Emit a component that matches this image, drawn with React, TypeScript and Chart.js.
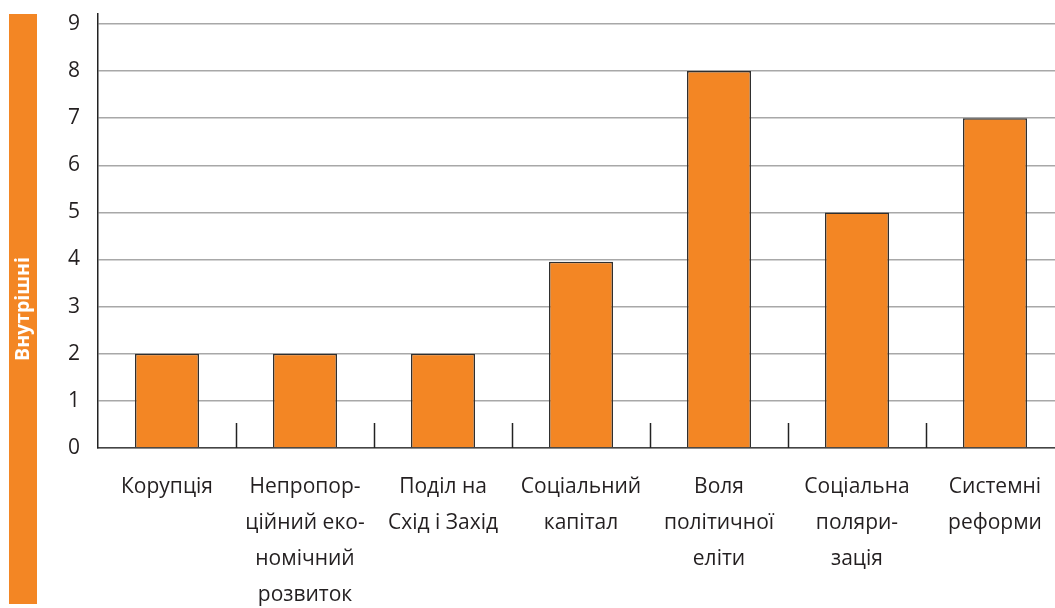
import React, { useEffect, useRef } from "react";
import { Chart, registerables } from "chart.js";

Chart.register(...registerables);

const categories: (string | string[])[] = [
  "Корупція",
  ["Непропор-", "ційний еко-", "номічний", "розвиток"],
  ["Поділ на", "Схід і Захід"],
  ["Соціальний", "капітал"],
  ["Воля", "політичної", "еліти"],
  ["Соціальна", "поляри-", "зація"],
  ["Системні", "реформи"],
];
const values: number[] = [2, 2, 2, 3.95, 8, 5, 7];
const yTicks: number[] = [0, 1, 2, 3, 4, 5, 6, 7, 8, 9];
const sideLabel = "Внутрішні";

const ORANGE = "#F38624";
const FONT = "'Open Sans', 'Noto Sans', sans-serif";

const decorPlugin = {
  id: "decor",
  beforeDraw(chart: any) {
    const ctx = chart.ctx;
    ctx.save();
    ctx.fillStyle = ORANGE;
    ctx.fillRect(1, 6, 28, 590);
    ctx.translate(15, 301);
    ctx.rotate(-Math.PI / 2);
    ctx.fillStyle = "#ffffff";
    ctx.font = `bold 19.5px ${FONT}`;
    ctx.textAlign = "center";
    ctx.textBaseline = "middle";
    ctx.fillText(sideLabel, 0, 0);
    ctx.restore();
  },
  afterDatasetsDraw(chart: any) {
    const ctx = chart.ctx;
    const xs = chart.scales.x;
    const ys = chart.scales.y;
    const y0 = ys.getPixelForValue(0);
    ctx.save();
    ctx.strokeStyle = "#222";
    ctx.lineWidth = 1.5;
    for (let i = 0; i < categories.length - 1; i++) {
      const x = Math.round((xs.getPixelForValue(i) + xs.getPixelForValue(i + 1)) / 2) + 0.5;
      ctx.beginPath();
      ctx.moveTo(x, y0);
      ctx.lineTo(x, y0 - 25);
      ctx.stroke();
    }
    ctx.restore();
  },
};

export default function App() {
  const ref = useRef<HTMLCanvasElement>(null);
  useEffect(() => {
    if (!ref.current) return;
    const chart = new Chart(ref.current, {
      type: "bar",
      data: {
        labels: categories,
        datasets: [
          {
            data: values,
            backgroundColor: ORANGE,
            borderColor: "#2f2f2f",
            borderWidth: 1.5,
            categoryPercentage: 1,
            barPercentage: 0.464,
          },
        ],
      },
      options: {
        animation: false,
        responsive: false,
        maintainAspectRatio: false,
        layout: { padding: { top: 6, left: 0, right: 0, bottom: 0 } },
        plugins: { legend: { display: false }, tooltip: { enabled: false } },
        scales: {
          x: {
            offset: true,
            grid: { display: false, drawTicks: false },
            border: { color: "#444", width: 1.5 },
            ticks: {
              autoSkip: false,
              maxRotation: 0,
              minRotation: 0,
              padding: 21,
              color: "#231f20",
              font: { family: FONT, size: 21, lineHeight: 1.72 },
            },
            afterFit(scale: any) {
              scale.height = 160;
              scale.paddingLeft = 0;
              scale.paddingRight = 0;
            },
          },
          y: {
            min: 0,
            max: 9.21,
            grid: { color: "#a8a8a8", lineWidth: 1.5, drawTicks: false },
            border: { color: "#222", width: 1.5 },
            ticks: {
              padding: 18,
              color: "#231f20",
              font: { family: FONT, size: 21 },
            },
            afterBuildTicks(scale: any) {
              scale.ticks = yTicks.map((v) => ({ value: v }));
            },
            afterFit(scale: any) {
              scale.width = 90;
              scale.paddingTop = 0;
              scale.paddingBottom = 0;
            },
          },
        },
      },
      plugins: [decorPlugin],
    });
    return () => chart.destroy();
  }, []);
  return (
    <div
      style={{
        position: "fixed",
        top: 0,
        left: 0,
        width: 1055,
        height: 608,
        overflow: "hidden",
        background: "#fff",
      }}
    >
      <div style={{ position: "absolute", left: 8, top: 8, width: 1056, height: 600 }}>
        <canvas ref={ref} width={1056} height={600} style={{ display: "block" }} />
      </div>
    </div>
  );
}
